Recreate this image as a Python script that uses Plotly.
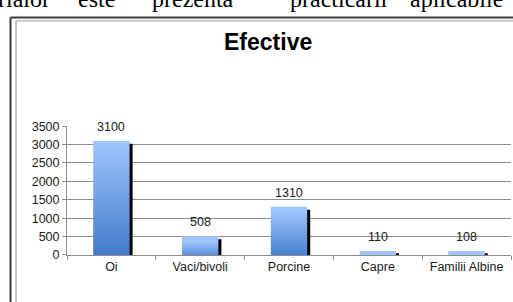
import plotly.graph_objects as go

# ---- data ----
categories = ["Oi", "Vaci/bivoli", "Porcine", "Capre", "Familii Albine"]
values = [3100, 508, 1310, 110, 108]
y_ticks = [0, 500, 1000, 1500, 2000, 2500, 3000, 3500]
chart_title = "Efective"
doc_words = ["rialor", "este", "prezentă", "practicării", "aplicabile"]

# ---- layout constants (pixels) ----
W, H = 513, 302
PLOT_L, PLOT_R = 67, 511
PLOT_T, PLOT_B = 125, 260
YMAX = 3500
BAR_W = 0.41
SHADOW_DX = 3
SHADOW_DY = 3
FONT = "Liberation Sans, Arial, sans-serif"
TXT = "#1a1a1a"
GRID = "#8c8c8c"

def pxx(p):
    return p / W

def pxy(p):
    return 1 - p / H

cat_px = (PLOT_R - PLOT_L) / len(categories)
data_per_px = YMAX / (PLOT_B - PLOT_T)

fig = go.Figure()

# shadow bars (black, offset right/down)
fig.add_trace(go.Bar(
    x=categories,
    y=[v - SHADOW_DY * data_per_px for v in values],
    width=BAR_W,
    offset=-BAR_W / 2 + SHADOW_DX / cat_px,
    marker=dict(color="#000000", line=dict(width=0)),
    hoverinfo="skip", showlegend=False,
))

# gradient bars drawn on an overlaying numeric axis
for i, v in enumerate(values):
    x0, x1 = i - BAR_W / 2, i + BAR_W / 2
    fig.add_trace(go.Scatter(
        x=[x0, x1, x1, x0, x0], y=[0, 0, v, v, 0],
        xaxis="x2", yaxis="y",
        mode="lines", line=dict(width=0, color="rgba(0,0,0,0)"),
        fill="toself",
        fillgradient=dict(type="vertical", start=0, stop=v,
                          colorscale=[[0, "#3C77C8"], [1, "#9FC5FD"]]),
        hoverinfo="skip", showlegend=False,
    ))

annotations = []
# data labels
for c, v in zip(categories, values):
    annotations.append(dict(
        x=c, y=v, xref="x", yref="y", text=str(v), showarrow=False,
        yanchor="bottom", yshift=5,
        font=dict(family=FONT, size=12.5, color=TXT),
    ))

# title
annotations.append(dict(
    x=pxx(267.5), y=pxy(37), xref="paper", yref="paper", text=f"<b>{chart_title}</b>",
    showarrow=False, xanchor="center", yanchor="middle",
    font=dict(family=FONT, size=23, color="#000000"),
))

# cropped document text line at the very top
word_x = [-4, 76, 150, 288, 408]
for wx, wd in zip(word_x, doc_words):
    annotations.append(dict(
        x=pxx(wx), y=pxy(7), xref="paper", yref="paper", text=wd,
        showarrow=False, xanchor="left", yanchor="bottom",
        font=dict(family="Liberation Serif, Times New Roman, serif", size=24, color="#000000"),
    ))

shapes = [
    # outer dark frame
    dict(type="line", xref="paper", yref="paper", x0=pxx(10.5), x1=pxx(10.5), y0=pxy(11), y1=pxy(320),
         line=dict(color="#3a3a3a", width=2)),
    dict(type="line", xref="paper", yref="paper", x0=pxx(10.5), x1=pxx(530), y0=pxy(11), y1=pxy(11),
         line=dict(color="#3a3a3a", width=2)),
    # inner gray frame
    dict(type="line", xref="paper", yref="paper", x0=pxx(16), x1=pxx(16), y0=pxy(14.5), y1=pxy(320),
         line=dict(color="#c4c4c4", width=2)),
    dict(type="line", xref="paper", yref="paper", x0=pxx(16), x1=pxx(530), y0=pxy(14.5), y1=pxy(14.5),
         line=dict(color="#c4c4c4", width=2)),
]

fig.update_layout(
    width=W, height=H, autosize=False,
    margin=dict(l=0, r=0, t=0, b=0),
    paper_bgcolor="white", plot_bgcolor="rgba(0,0,0,0)",
    showlegend=False,
    barmode="overlay",
    xaxis=dict(
        type="category", categoryorder="array", categoryarray=categories,
        range=[-0.5, len(categories) - 0.5],
        domain=[pxx(PLOT_L), pxx(PLOT_R)],
        tickson="boundaries", ticks="outside", ticklen=4, tickcolor=GRID,
        showline=True, linecolor=GRID, linewidth=1, showgrid=False,
        tickfont=dict(family=FONT, size=12.5, color=TXT),
        fixedrange=True,
    ),
    xaxis2=dict(
        overlaying="x", range=[-0.5, len(categories) - 0.5],
        visible=False, showgrid=False, zeroline=False, fixedrange=True,
    ),
    yaxis=dict(
        range=[0, YMAX], domain=[pxy(PLOT_B), pxy(PLOT_T)],
        tickvals=y_ticks, ticks="outside", ticklen=4, tickcolor=GRID,
        showline=True, linecolor=GRID, linewidth=1,
        showgrid=True, gridcolor=GRID, gridwidth=1, zeroline=False,
        tickfont=dict(family=FONT, size=12.5, color=TXT),
        fixedrange=True,
    ),
    annotations=annotations,
    shapes=shapes,
)

fig.write_html(
    "out.html",
    config={"displayModeBar": False, "responsive": False},
    post_script=(
        "var gd=document.getElementById('{plot_id}');"
        "gd.style.position='fixed';gd.style.top='0px';gd.style.left='0px';"
        "document.documentElement.style.margin='0';document.body.style.margin='0';"
        "document.documentElement.style.overflow='hidden';document.body.style.overflow='hidden';"
    ),
)
